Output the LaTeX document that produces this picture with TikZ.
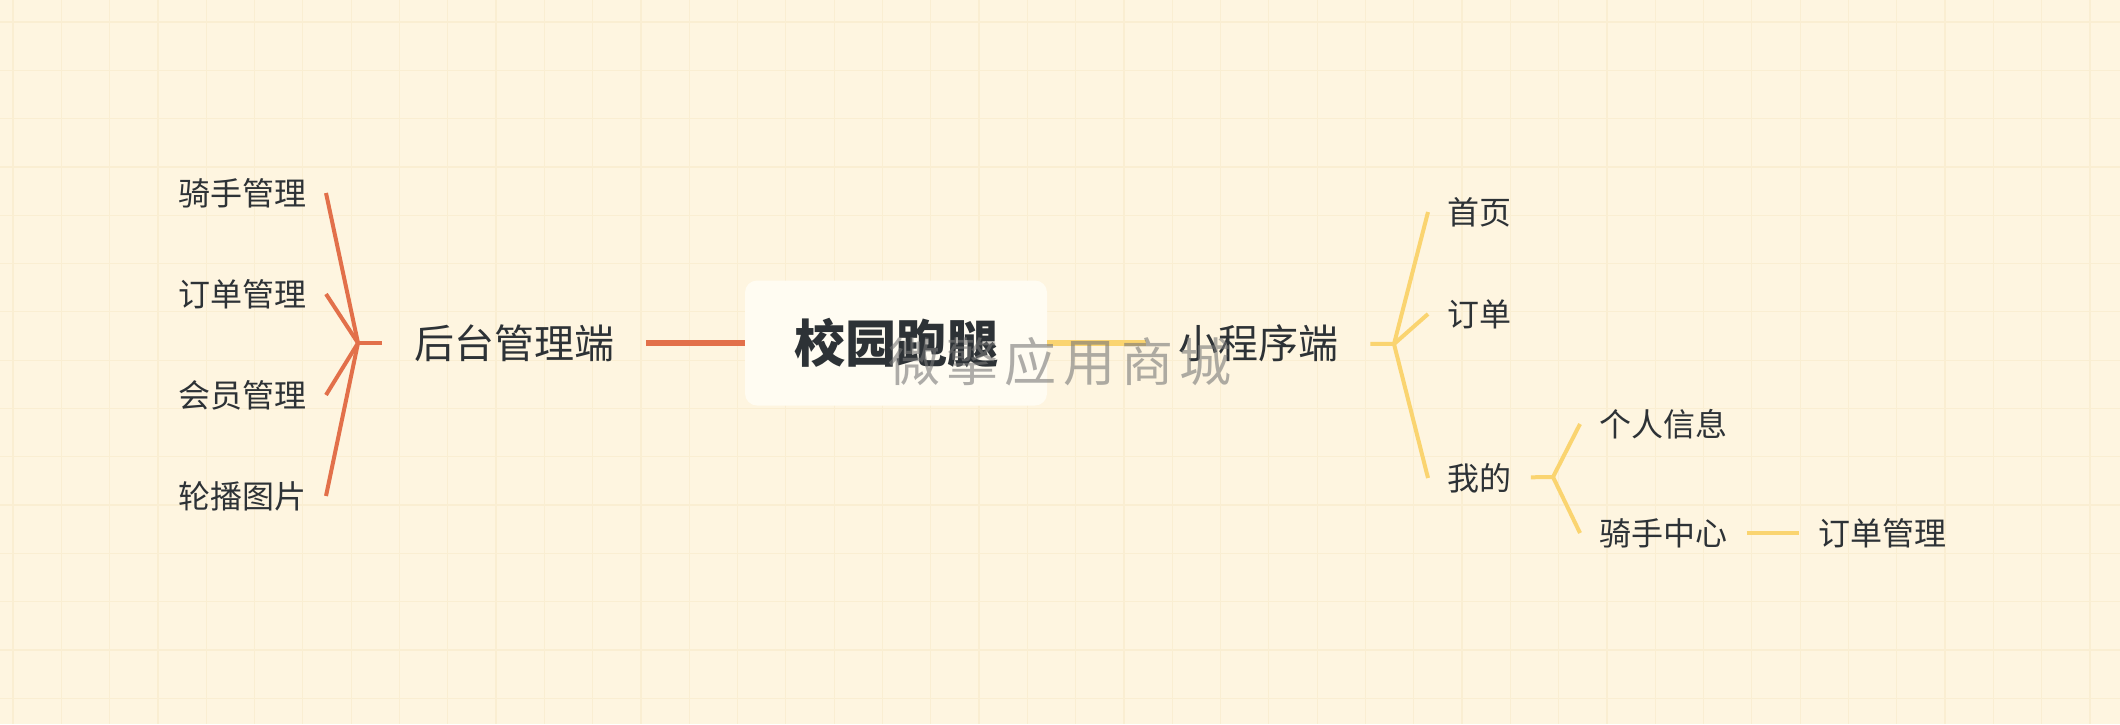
\documentclass[tikz,border=0pt]{standalone}
\usepackage{fontspec}
\newfontfamily\cjk{Noto Sans CJK SC}
\newfontfamily\markfont[LetterSpace=12]{Noto Sans CJK SC}
\usetikzlibrary{positioning}
\definecolor{paper}{RGB}{254,245,224}
\definecolor{paperline}{RGB}{250,238,210}
\definecolor{boxfill}{RGB}{255,252,242}
\definecolor{inkdark}{RGB}{45,50,54}
\definecolor{backcol}{RGB}{226,112,74}
\definecolor{frontcol}{RGB}{250,212,112}
\definecolor{markgray}{RGB}{120,120,120}

\begin{document}
\begin{tikzpicture}[
        x=0.5pt, y=-0.5pt,
        every node/.style={font=\cjk, text=inkdark},
        root/.style={rectangle, fill=boxfill, rounded corners=6pt, inner xsep=24.5pt, minimum height=62.5pt, font=\cjk\bfseries\fontsize{25.5}{30}\selectfont},
        branch/.style={inner xsep=16pt, inner ysep=0pt, font=\cjk\fontsize{20}{24}\selectfont},
        leaf/.style={inner xsep=9.5pt, inner ysep=0pt, font=\cjk\fontsize{16}{19}\selectfont},
        backline/.style={draw=backcol, line width=2pt},
        frontline/.style={draw=frontcol, line width=2pt},
        gridline/.style={draw=paperline, line width=0.6pt},
        wmark/.style={font=\markfont\fontsize{26}{30}\selectfont, text=markgray, text opacity=0.6},
    ]

    % Paper
    \fill [paper] (0,0) rectangle (2120,724);
    \useasboundingbox (0,0) rectangle (2120,724);
    \foreach \gx in {0,...,43} \path [gridline] ({13+48.3*\gx},0) -- ({13+48.3*\gx},724);
    \foreach \gy in {0,...,14} \path [gridline] (0,{22+48.3*\gy}) -- (2120,{22+48.3*\gy});

    % Nodes
    \node [root] (campus) at (896,343) {校园跑腿};
    \node [branch] (back) at (514,343) {后台管理端};
    \node [branch] (front) at (1258,343) {小程序端};

    \node [leaf, anchor=east] (rider) at (326,193) {骑手管理};
    \node [leaf, anchor=east] (orders) at (326,294) {订单管理};
    \node [leaf, anchor=east] (members) at (326,395) {会员管理};
    \node [leaf, anchor=east] (banner) at (326,496) {轮播图片};

    \node [leaf, anchor=west] (home) at (1428,212) {首页};
    \node [leaf, anchor=west] (order) at (1428,314) {订单};
    \node [leaf, anchor=west] (mine) at (1428,478) {我的};
    \node [leaf, anchor=west] (profile) at (1580,424) {个人信息};
    \node [leaf, anchor=west] (ridercenter) at (1580,533) {骑手中心};
    \node [leaf, right=26pt of ridercenter] (riderorders) {订单管理};

    \coordinate (backjoin) at (358,343);
    \coordinate (frontjoin) at (1394,344);
    \coordinate (minejoin) at (1553,477);

    % Lines
    \path [backline, line width=2.8pt] (campus) -- (back);
    \path [backline] (back) -- (backjoin);
    \path [backline] (backjoin) -- (rider.east);
    \path [backline] (backjoin) -- (orders.east);
    \path [backline] (backjoin) -- (members.east);
    \path [backline] (backjoin) -- (banner.east);

    \path [frontline, line width=2.8pt] (campus) -- (front);
    \path [frontline] (front) -- (frontjoin);
    \path [frontline] (frontjoin) -- (home.west);
    \path [frontline] (frontjoin) -- (order.west);
    \path [frontline] (frontjoin) -- (mine.west);
    \path [frontline] (mine) -- (minejoin);
    \path [frontline] (minejoin) -- (profile.west);
    \path [frontline] (minejoin) -- (ridercenter.west);
    \path [frontline] (ridercenter) -- (riderorders);

    % Watermark
    \node [wmark] (mark) at (1060,362) {微擎应用商城};

    \end{tikzpicture}
\end{document}
